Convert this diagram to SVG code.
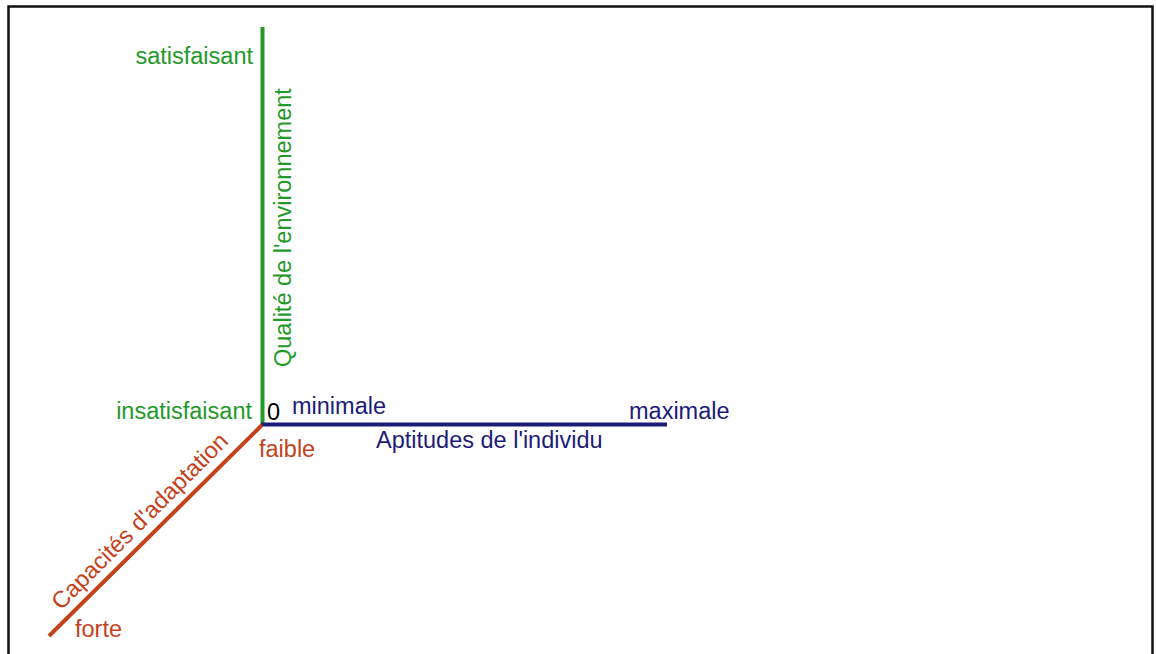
<svg xmlns="http://www.w3.org/2000/svg" width="1156" height="654" viewBox="0 0 1156 654">
<style>
text{font-family:"Liberation Sans",Arial,sans-serif;font-size:23.5px}
.g{fill:#23992a}.b{fill:#1c1c78}.r{fill:#c4421a}.k{fill:#000}
.ax{fill:none;stroke-width:4;stroke-linecap:butt}
</style>
<rect width="1156" height="654" fill="#fff"/>
<rect x="8.5" y="6.5" width="1144" height="660" fill="none" stroke="#111" stroke-width="2.5"/>
<g id="connectors">
<line class="ax" x1="262.5" y1="27" x2="262.5" y2="426" stroke="#23992a"/>
<line class="ax" x1="261" y1="424.5" x2="667" y2="424.5" stroke="#1c1c78"/>
<line class="ax" x1="262" y1="425" x2="49" y2="636" stroke="#c4421a"/>
</g>
<g id="node-env">
<text class="g" x="253" y="64" text-anchor="end">satisfaisant</text>
<text class="g" x="252" y="419" text-anchor="end">insatisfaisant</text>
<text class="g" transform="translate(291,367) rotate(-90)">Qualité de l'environnement</text>
</g>
<g id="node-origin">
<text class="k" x="267" y="420">0</text>
</g>
<g id="node-apt">
<text class="b" x="292" y="414">minimale</text>
<text class="b" x="629" y="419">maximale</text>
<text class="b" x="376" y="448">Aptitudes de l'individu</text>
</g>
<g id="node-cap">
<text class="r" x="259" y="457">faible</text>
<text class="r" x="75" y="637">forte</text>
<text class="r" transform="translate(61,611) rotate(-45)">Capacités d'adaptation</text>
</g>
</svg>
